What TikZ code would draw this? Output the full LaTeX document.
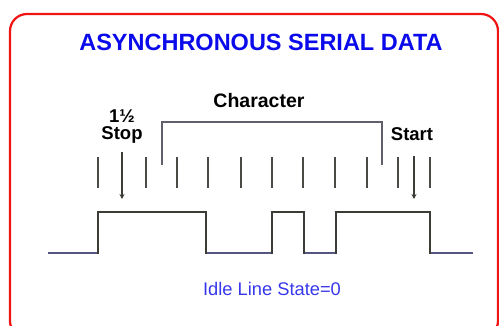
\documentclass[tikz,border=0pt]{standalone}
\usepackage{fontspec}
\setmainfont{Liberation Sans}
\usetikzlibrary{arrows.meta}
\definecolor{framered}{RGB}{240,20,20}
\definecolor{titleblue}{RGB}{10,10,235}
\definecolor{idleblue}{RGB}{55,55,235}
\definecolor{wave}{RGB}{60,60,55}
\definecolor{wavelow}{RGB}{85,85,130}
\definecolor{tick}{RGB}{75,75,70}
\definecolor{bracket}{RGB}{95,95,110}
\begin{document}
\begin{tikzpicture}[x=1pt,y=-1pt,
  label/.style={inner sep=0pt,font=\bfseries\fontsize{18.5}{20}\selectfont,align=center},
  tickline/.style={draw=tick,line width=1.6pt},
  pointer/.style={draw=wave,line width=1.2pt,-{Stealth[length=5pt,width=5pt]}},
  wavestyle/.style={draw=wave,line width=1.8pt,line join=miter},
]
\useasboundingbox (0,0) rectangle (499,326);
\begin{scope}
\clip (0,0) rectangle (499,326);
\draw[framered,line width=2.2pt,rounded corners=17pt] (10,14) rectangle (498,338);
\end{scope}

% title and labels
\node[inner sep=0pt,text=titleblue,font=\bfseries\fontsize{23.5}{26}\selectfont] (title) at (261,42) {ASYNCHRONOUS SERIAL DATA};
\node[label,font=\bfseries\fontsize{19.5}{21}\selectfont] (char) at (259,101) {Character};
\node[label] (stop) at (122,127) {1½\\[-3pt]Stop};
\node[label] (start) at (412,134) {Start};
\node[inner sep=0pt,text=idleblue,font=\fontsize{18.3}{20}\selectfont] (idle) at (272,289) {Idle Line State=0};

% bit-boundary ticks
\foreach \x/\n in {98/t0,146/t1,177/t2,208/t3,241/t4,272/t5,303/t6,335/t7,367/t8,398/t9,430/t10}
  \draw[tickline] (\x,157) -- (\x,188) coordinate (\n);

% character bracket
\coordinate (bl) at (162,165);
\coordinate (br) at (382,165);
\draw[draw=bracket,line width=1.6pt] (bl) -- (162,122) -- (382,122) -- (br);

% stop and start pointers
\coordinate (stopA) at (122,152);
\coordinate (stopB) at (122,199);
\coordinate (startA) at (414,156);
\coordinate (startB) at (414,199);
\draw[pointer] (stopA) -- (stopB);
\draw[pointer] (startA) -- (startB);

% waveform
\draw[wavestyle] (48,253) -- (98,253) -- (98,212) -- (206,212) -- (206,253)
  -- (272,253) -- (272,212) -- (304,212) -- (304,253) -- (336,253)
  -- (336,212) -- (430,212) -- (430,253) -- (473,253);
\foreach \a/\b in {48/97,207/271,305/335,431/473}
  \draw[draw=wavelow,line width=1.8pt] (\a,253) -- (\b,253);
\end{tikzpicture}
\end{document}
